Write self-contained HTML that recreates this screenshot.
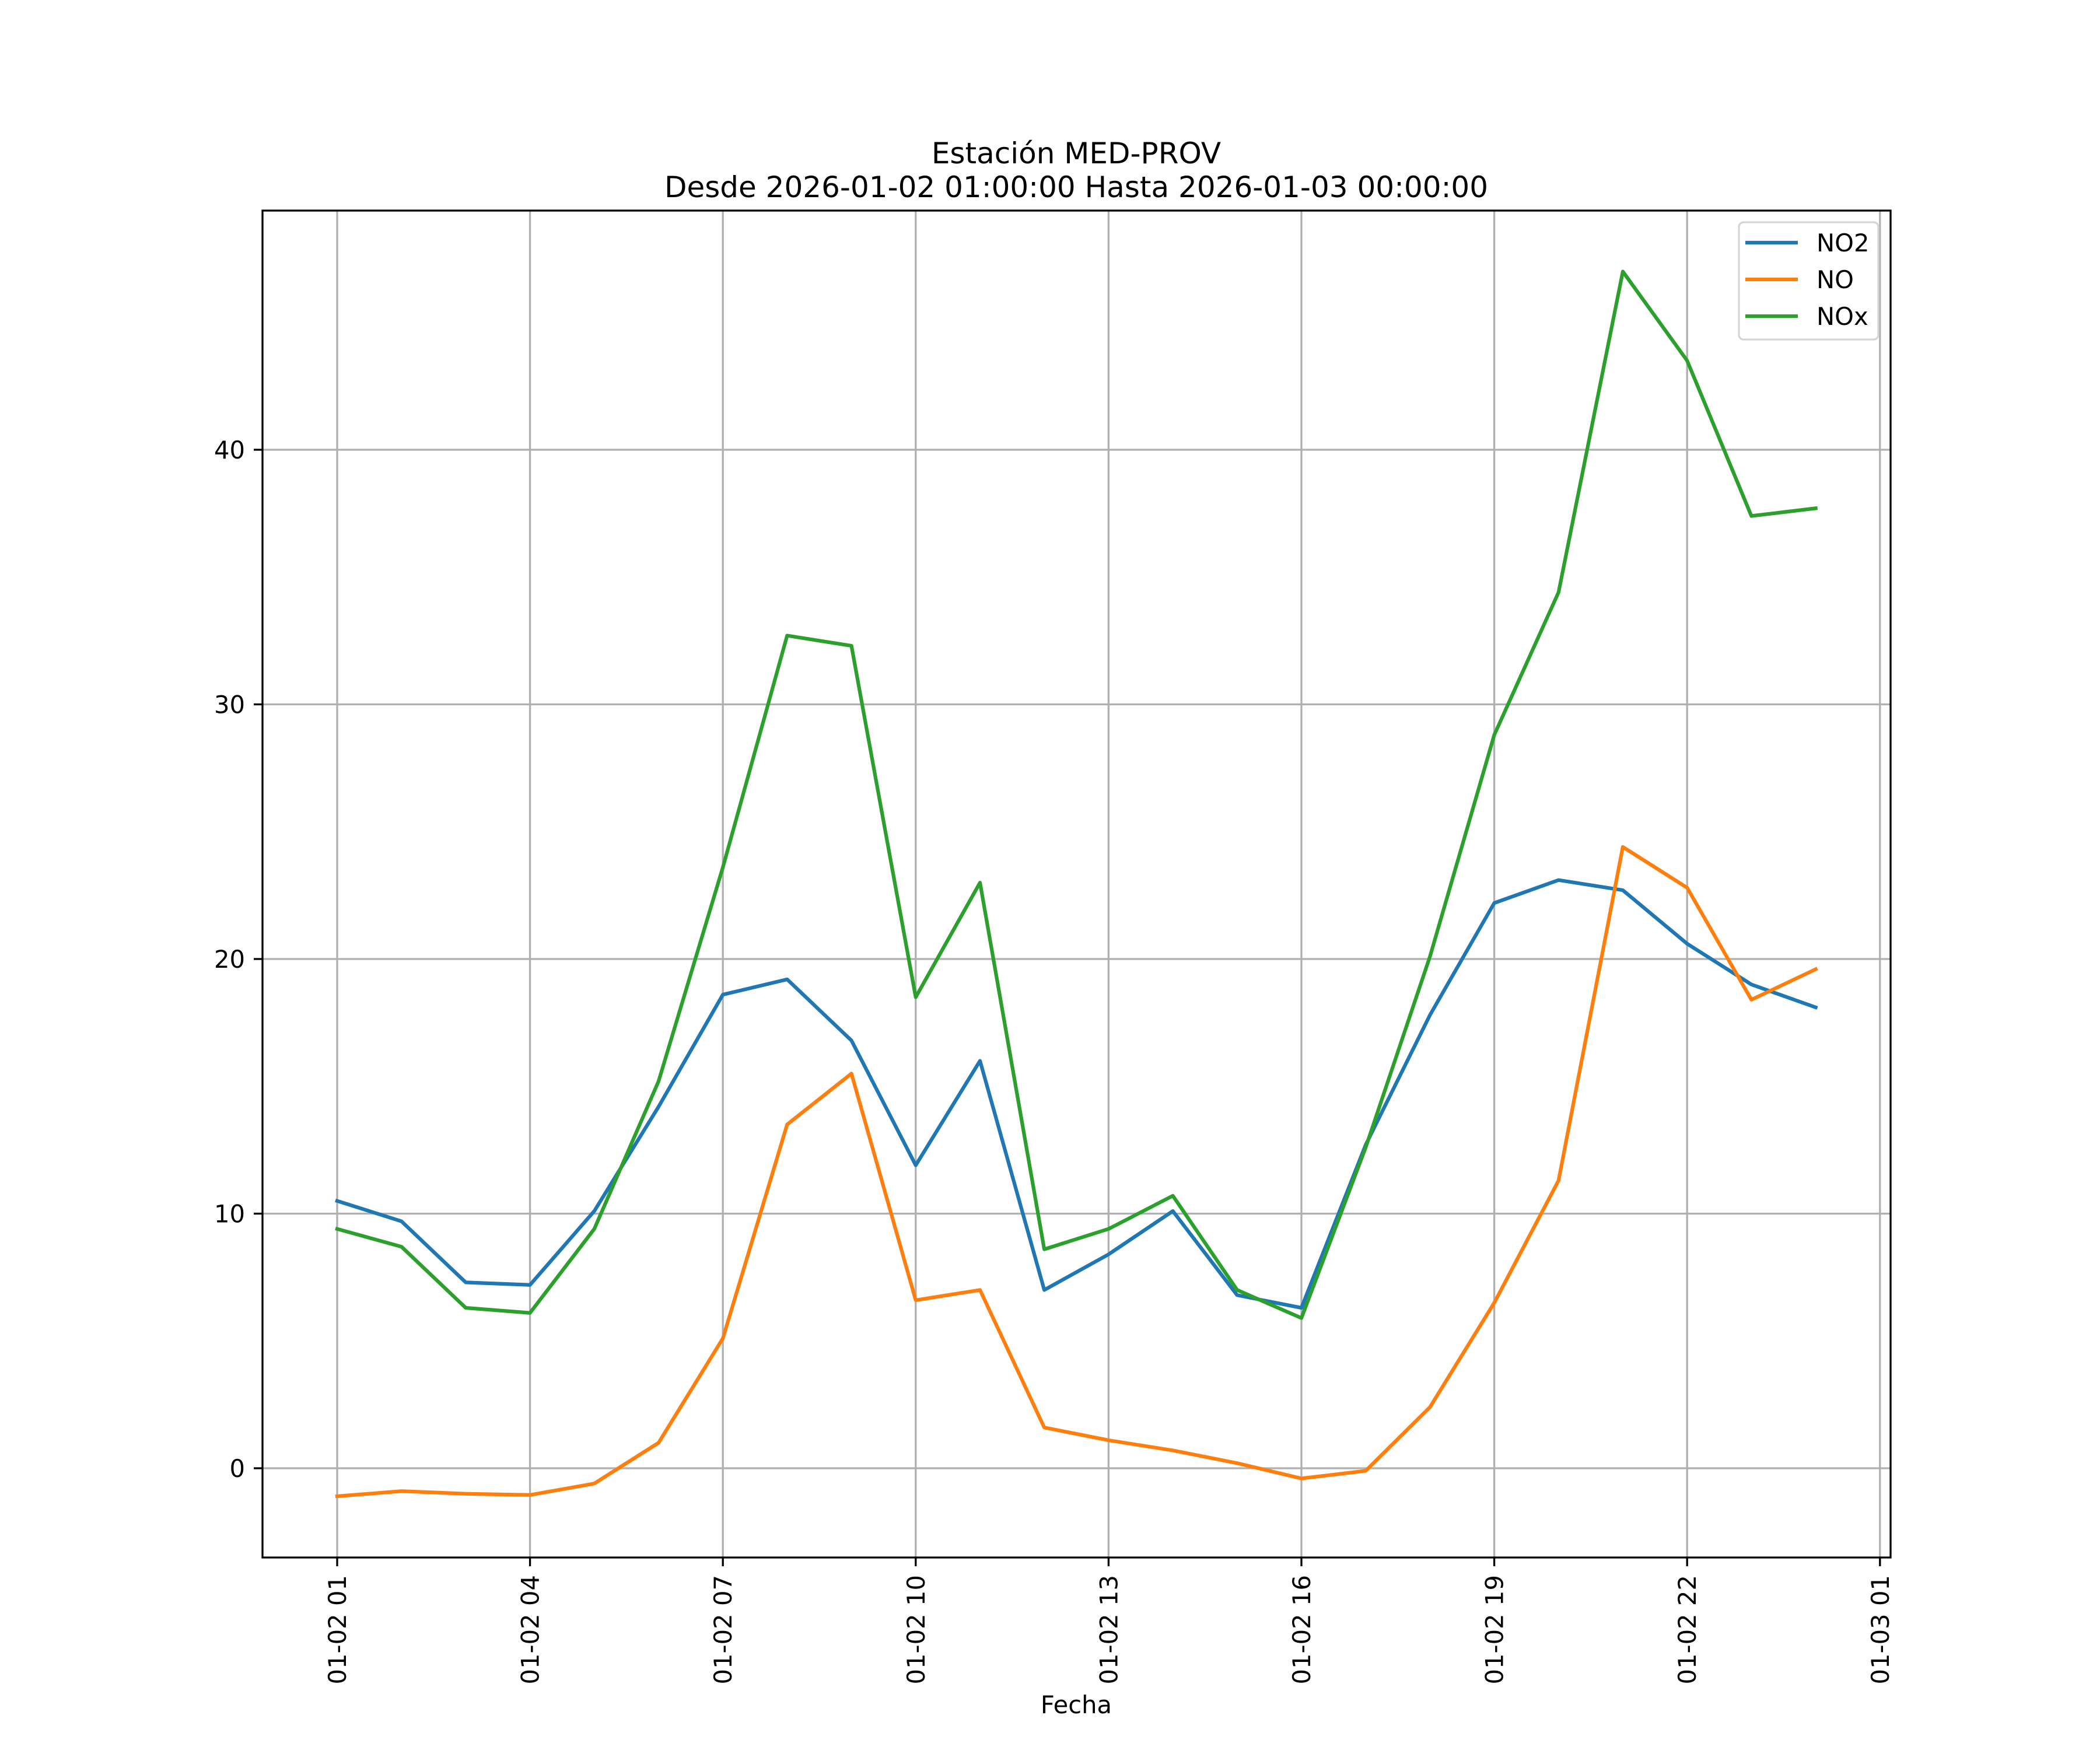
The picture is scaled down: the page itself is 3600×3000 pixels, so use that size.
<!DOCTYPE html>
<html><head><meta charset="utf-8"><style>html,body{margin:0;padding:0;background:#fff}svg{display:block}</style></head>
<body>
<svg id="chart" width="3600" height="3000" viewBox="0 0 3600 3000" xmlns="http://www.w3.org/2000/svg" font-family="'DejaVu Sans','Liberation Sans',sans-serif">
<rect width="3600" height="3000" fill="#fff"/>
<g id="grid"></g>
<g id="series"></g>
<rect x="450" y="361" width="2791" height="2309" fill="none" stroke="#000" stroke-width="3.3"/>
<g id="ticks"></g>
<text x="1845" y="280" font-size="50" text-anchor="middle">Estación MED-PROV</text>
<text x="1845" y="338" font-size="50" text-anchor="middle">Desde 2026-01-02 01:00:00 Hasta 2026-01-03 00:00:00</text>
<text x="1845" y="2937" font-size="41.7" text-anchor="middle">Fecha</text>
<g>
<rect x="2981" y="381" width="239" height="201" rx="8" fill="#fff" fill-opacity="0.8" stroke="#d5d5d5" stroke-width="3.3"/>
<line x1="2992" y1="416" x2="3082" y2="416" stroke="#1f77b4" stroke-width="6.25"/>
<text x="3114" y="431" font-size="41.7">NO2</text>
<line x1="2992" y1="479" x2="3082" y2="479" stroke="#ff7f0e" stroke-width="6.25"/>
<text x="3114" y="494" font-size="41.7">NO</text>
<line x1="2992" y1="542" x2="3082" y2="542" stroke="#2ca02c" stroke-width="6.25"/>
<text x="3114" y="557" font-size="41.7">NOx</text>
</g>
</svg>
<script>
const hours = [1,2,3,4,5,6,7,8,9,10,11,12,13,14,15,16,17,18,19,20,21,22,23,24];
const no2 = [10.5,9.7,7.3,7.2,10.1,14.2,18.6,19.2,16.8,11.9,16.0,7.0,8.4,10.1,6.8,6.3,12.7,17.8,22.2,23.1,22.7,20.6,19.0,18.1];
const no = [-1.1,-0.9,-1.0,-1.05,-0.6,1.0,5.1,13.5,15.5,6.6,7.0,1.6,1.1,0.7,0.2,-0.4,-0.1,2.4,6.5,11.3,24.4,22.8,18.4,19.6];
const nox = [9.4,8.7,6.3,6.1,9.4,15.2,23.6,32.7,32.3,18.5,23.0,8.6,9.4,10.7,7.0,5.9,12.6,20.1,28.8,34.4,47.0,43.5,37.4,37.7];
const xTickHours = [1,4,7,10,13,16,19,22,25];
const xTickLabels = ["01-02 01","01-02 04","01-02 07","01-02 10","01-02 13","01-02 16","01-02 19","01-02 22","01-03 01"];
const yTicks = [0,10,20,30,40];

const NS = "http://www.w3.org/2000/svg";
function xs(t){ return 578 + (t-1)*110.2; }
function ys(v){ return 2517 - v*43.65; }
function mk(tag, attrs, parent){
  const e = document.createElementNS(NS, tag);
  for (const k in attrs) e.setAttribute(k, attrs[k]);
  parent.appendChild(e); return e;
}
const grid = document.getElementById('grid');
const ticks = document.getElementById('ticks');
const series = document.getElementById('series');

xTickHours.forEach((h,i)=>{
  const x = xs(h);
  const g = mk('line',{x1:x,y1:361,x2:x,y2:2670,stroke:'#b0b0b0','stroke-width':3.3},grid);
  
  
  const t = mk('line',{x1:x,y1:2670,x2:x,y2:2685,stroke:'#000','stroke-width':3.3},ticks);
  
  
  const lb = mk('text',{x:0,y:0,'font-size':41.7,'text-anchor':'end',transform:`translate(${x+15},2700) rotate(-90)`},ticks);
  lb.textContent = xTickLabels[i];
  
  
});
yTicks.forEach(v=>{
  const y = ys(v);
  const g = mk('line',{x1:450,y1:y,x2:3241,y2:y,stroke:'#b0b0b0','stroke-width':3.3},grid);
  
  
  const t = mk('line',{x1:435,y1:y,x2:450,y2:y,stroke:'#000','stroke-width':3.3},ticks);
  
  
  const lb = mk('text',{x:420,y:y+15,'font-size':41.7,'text-anchor':'end'},ticks);
  lb.textContent = String(v);
  
  
});
function drawLine(vals,color,name){
  const pts = vals.map((v,i)=>xs(hours[i]).toFixed(1)+','+ys(v).toFixed(1)).join(' ');
  const p = mk('polyline',{points:pts,fill:'none',stroke:color,'stroke-width':6.25,'stroke-linejoin':'round','stroke-linecap':'square'},series);
  
  
}
drawLine(no2,'#1f77b4','no2-line');
drawLine(no,'#ff7f0e','no-line');
drawLine(nox,'#2ca02c','nox-line');
</script>
</body></html>
